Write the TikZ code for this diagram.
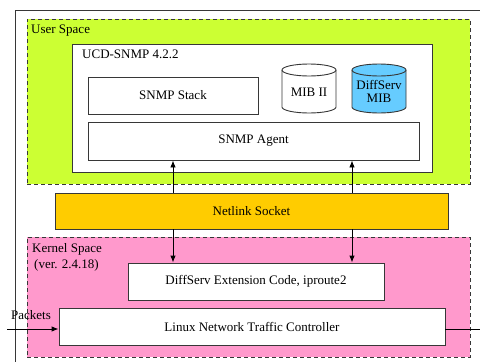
\documentclass[tikz,border=0pt]{standalone}
\usepackage{fontspec}
\setmainfont{Liberation Serif}
\usetikzlibrary{arrows.meta,calc}
\definecolor{limefill}{RGB}{204,255,51}
\definecolor{pinkfill}{RGB}{255,153,204}
\definecolor{netorange}{RGB}{255,204,0}
\definecolor{mibblue}{RGB}{102,204,255}
\definecolor{linegray}{RGB}{55,55,55}
\tikzset{
  every node/.style={font=\fontsize{13pt}{15pt}\selectfont, inner sep=0pt},
  box/.style={draw=linegray, line width=0.9pt, fill=white, rectangle},
  zone/.style={draw=linegray, line width=0.9pt, dash pattern=on 4pt off 3pt, rectangle},
  lbl/.style={anchor=north west, align=left},
  arr/.style={draw=black, line width=0.9pt, -{Latex[length=7pt,width=5.5pt]}},
  cyl/.style={draw=linegray, line width=0.9pt}
}
\begin{document}
\begin{tikzpicture}[x=1pt,y=1pt]
\useasboundingbox (0,0) rectangle (480,-362);
\clip (0,0) rectangle (480,-362);
\fill[white] (0,0) rectangle (480,-362);
% outer frame
\coordinate (fr1) at (490,-10);
\coordinate (fr2) at (15,-10);
\coordinate (fr3) at (15,-372);
\draw[linegray, line width=0.9pt] (fr1) -- (fr2) -- (fr3);
% zones
\node[zone, fill=limefill, minimum width=443pt, minimum height=165pt] (user) at (248.5,-101.5) {};
\node[lbl] (userlbl) at (31,-25) {User Space};
\node[zone, fill=pinkfill, minimum width=443pt, minimum height=120pt] (kernel) at (248.5,-297) {};
\node[lbl] (kernlbl) at (32,-243) {Kernel Space\\[1pt]\hspace*{2pt}(ver. 2.4.18)};
% UCD-SNMP
\node[box, minimum width=360pt, minimum height=128pt] (ucd) at (252,-108) {};
\node[lbl] (ucdlbl) at (82,-50) {UCD-SNMP 4.2.2};
\node[box, minimum width=170pt, minimum height=37pt] (stack) at (173,-95.5) {SNMP Stack};
\node[box, minimum width=331pt, minimum height=38pt] (agent) at (253.5,-141) {SNMP Agent};
% cylinders
\draw[cyl, fill=white] (282,-70) -- (282,-107) arc[start angle=180,end angle=360,x radius=27,y radius=6] -- (336,-70) arc[start angle=0,end angle=180,x radius=27,y radius=6] -- cycle;
\draw[cyl] (282,-70) arc[start angle=180,end angle=360,x radius=27,y radius=6];
\node (mib2) at (309,-92) {MIB II};
\draw[cyl, fill=mibblue] (352,-70) -- (352,-107) arc[start angle=180,end angle=360,x radius=27,y radius=6] -- (406,-70) arc[start angle=0,end angle=180,x radius=27,y radius=6] -- cycle;
\draw[cyl] (352,-70) arc[start angle=180,end angle=360,x radius=27,y radius=6];
\node[align=center] (dsmib) at (379,-91) {DiffServ\\[-2pt]MIB};
% netlink
\node[box, fill=netorange, minimum width=393pt, minimum height=36pt] (netlink) at (251.5,-211) {Netlink Socket};
% kernel boxes
\node[box, minimum width=256pt, minimum height=37pt] (dsext) at (256,-281.5) {DiffServ Extension Code, iproute2};
\node[box, minimum width=386pt, minimum height=37pt] (tc) at (252,-326.5) {Linux Network Traffic Controller};
% arrows
\coordinate (ax1) at (173,0);
\coordinate (ax2) at (352,0);
\draw[arr] (netlink.north -| ax1) -- (agent.south -| ax1);
\draw[arr] (netlink.north -| ax2) -- (agent.south -| ax2);
\draw[arr] (netlink.south -| ax1) -- (dsext.north -| ax1);
\draw[arr] (netlink.south -| ax2) -- (dsext.north -| ax2);
% packets
\coordinate (pin) at (7,-329);
\coordinate (pout) at (495,-329);
\draw[arr] (pin) -- (tc.west |- pin);
\draw[arr] (tc.east |- pout) -- (pout);
\node[anchor=west] (pk) at (11,-315) {Packets};
\end{tikzpicture}
\end{document}
